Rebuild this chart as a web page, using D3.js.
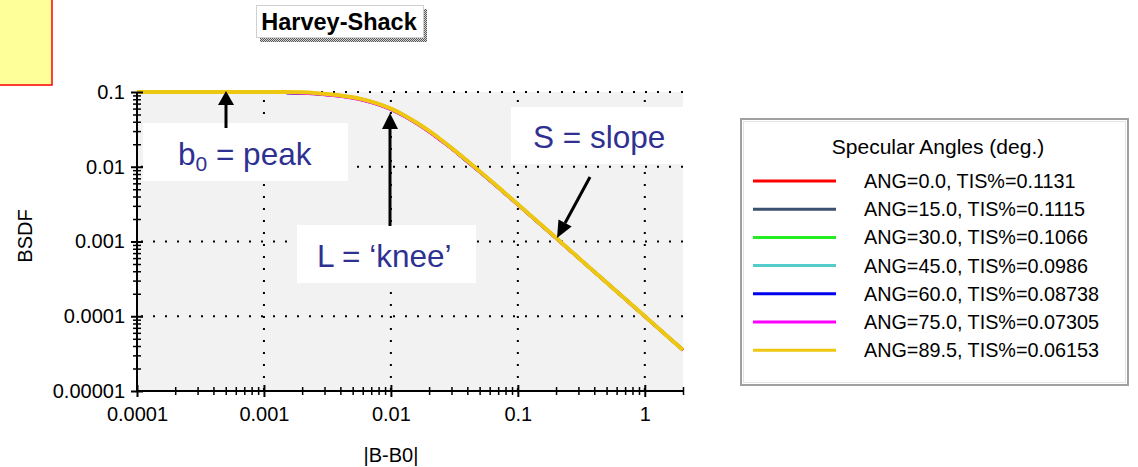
<!DOCTYPE html>
<html>
<head>
<meta charset="utf-8">
<script src="https://cdn.jsdelivr.net/npm/d3@7/dist/d3.min.js"></script>
<style>
  html, body { margin: 0; padding: 0; background: #ffffff; }
  svg { display: block; font-family: "Liberation Sans", Arial, sans-serif; }
</style>
</head>
<body>
<svg id="chart" width="1138" height="467"></svg>
<script>
// ---------------- DATA ----------------
const chartTitle = "Harvey-Shack";
const xAxisTitle = "|B-B0|";
const yAxisTitle = "BSDF";
const legendTitle = "Specular Angles (deg.)";

const xTickValues = [0.0001, 0.001, 0.01, 0.1, 1];
const xTickLabels = ["0.0001", "0.001", "0.01", "0.1", "1"];
const yTickValues = [0.00001, 0.0001, 0.001, 0.01, 0.1];
const yTickLabels = ["0.00001", "0.0001", "0.001", "0.01", "0.1"];

const seriesNames = [
  "ANG=0.0, TIS%=0.1131",
  "ANG=15.0, TIS%=0.1115",
  "ANG=30.0, TIS%=0.1066",
  "ANG=45.0, TIS%=0.0986",
  "ANG=60.0, TIS%=0.08738",
  "ANG=75.0, TIS%=0.07305",
  "ANG=89.5, TIS%=0.06153"
];
const seriesColors = ["#ff0000", "#3c5070", "#22ee22", "#55cccc", "#0000ee", "#ff00ff", "#eec711"];

// |B-B0| sample positions
const beta = [0.0001, 0.0002, 0.0005, 0.001, 0.0015, 0.002, 0.003, 0.004, 0.005, 0.006, 0.008,
  0.01, 0.013, 0.016, 0.02, 0.025, 0.03, 0.04, 0.05, 0.065, 0.08,
  0.1, 0.13, 0.16, 0.2, 0.25, 0.3, 0.4, 0.5, 0.65, 0.8,
  1.0, 1.3, 1.6, 2.0];

const bsdfAng0 = [null, null, null, null, 0.0983, 0.0970, 0.0936, 0.0893, 0.0844, 0.0792, 0.0688,
  0.0593, 0.0474, 0.0384, 0.0297, 0.0225, 0.0177, 0.0118, 0.00862, 0.00590, 0.00435,
  0.00312, 0.00211, 0.00155, 0.00111, 0.000795, 0.000605, 0.000393, 0.000282, 0.000190, 0.000139,
  0.0000997, 0.0000672, 0.0000493, 0.0000353];
const bsdfAng15 = [null, null, null, null, 0.0984, 0.0971, 0.0937, 0.0895, 0.0846, 0.0794, 0.0690,
  0.0595, 0.0476, 0.0386, 0.0299, 0.0226, 0.0178, 0.0119, 0.00868, 0.00593, 0.00437,
  0.00314, 0.00212, 0.00156, 0.00112, 0.000799, 0.000608, 0.000395, 0.000283, 0.000191, 0.000140,
  0.000100, 0.0000674, 0.0000494, 0.0000354];
const bsdfAng30 = [null, null, null, null, 0.0986, 0.0974, 0.0940, 0.0898, 0.0849, 0.0797, 0.0693,
  0.0597, 0.0478, 0.0387, 0.0300, 0.0227, 0.0179, 0.0120, 0.00870, 0.00595, 0.00438,
  0.00315, 0.00213, 0.00156, 0.00112, 0.000800, 0.000609, 0.000396, 0.000284, 0.000191, 0.000140,
  0.000100, 0.0000675, 0.0000495, 0.0000355];
const bsdfAng45 = [null, null, null, null, 0.0982, 0.0969, 0.0934, 0.0892, 0.0843, 0.0791, 0.0687,
  0.0592, 0.0473, 0.0384, 0.0297, 0.0225, 0.0177, 0.0118, 0.00863, 0.00590, 0.00435,
  0.00312, 0.00211, 0.00155, 0.00111, 0.000796, 0.000606, 0.000394, 0.000282, 0.000190, 0.000139,
  0.0000997, 0.0000672, 0.0000492, 0.0000353];
const bsdfAng60 = [null, null, null, null, 0.0978, 0.0964, 0.0928, 0.0884, 0.0834, 0.0782, 0.0679,
  0.0585, 0.0468, 0.0380, 0.0295, 0.0223, 0.0176, 0.0117, 0.00857, 0.00586, 0.00432,
  0.00311, 0.00210, 0.00154, 0.00111, 0.000793, 0.000604, 0.000392, 0.000281, 0.000190, 0.000139,
  0.0000995, 0.0000671, 0.0000492, 0.0000353];
const bsdfAng75 = [null, null, null, null, 0.0974, 0.0960, 0.0922, 0.0877, 0.0826, 0.0774, 0.0671,
  0.0579, 0.0464, 0.0377, 0.0292, 0.0221, 0.0175, 0.0117, 0.00853, 0.00584, 0.00431,
  0.00310, 0.00210, 0.00154, 0.00111, 0.000792, 0.000603, 0.000392, 0.000281, 0.000190, 0.000139,
  0.0000994, 0.0000670, 0.0000491, 0.0000352];
const bsdfAng89 = [0.1, 0.1, 0.1, 0.1, 0.1, 0.0995, 0.0945, 0.0900, 0.0850, 0.0798, 0.0694,
  0.0598, 0.0479, 0.0388, 0.0301, 0.0228, 0.0179, 0.0120, 0.00872, 0.00595, 0.00438,
  0.00315, 0.00213, 0.00156, 0.00112, 0.000800, 0.000608, 0.000395, 0.000283, 0.000191, 0.000140,
  0.000100, 0.0000674, 0.0000494, 0.0000354];

const seriesValues = [bsdfAng0, bsdfAng15, bsdfAng30, bsdfAng45, bsdfAng60, bsdfAng75, bsdfAng89];

// annotations
const annoPeak = { main: "b", sub: "0", rest: " = peak" };
const annoKnee = "L = \u2018knee\u2019";
const annoSlope = "S = slope";

// ---------------- DRAW ----------------
const svg = d3.select("#chart");
const textBlue = "#2e3192";

svg.append("rect").attr("width", 1138).attr("height", 467).attr("fill", "#ffffff");

// yellow note box top-left
svg.append("rect").attr("x", -2).attr("y", -2).attr("width", 54).attr("height", 87)
  .attr("fill", "#ffff99").attr("stroke", "#ff0000").attr("stroke-width", 1.5);

// title box with dithered shadow
const defs = svg.append("defs");
const pat = defs.append("pattern").attr("id", "dither").attr("width", 2).attr("height", 2)
  .attr("patternUnits", "userSpaceOnUse");
pat.append("rect").attr("width", 2).attr("height", 2).attr("fill", "#d8d8d8");
pat.append("rect").attr("width", 1).attr("height", 1).attr("fill", "#555");
pat.append("rect").attr("x", 1).attr("y", 1).attr("width", 1).attr("height", 1).attr("fill", "#555");

svg.append("rect").attr("x", 260).attr("y", 9).attr("width", 167).attr("height", 33).attr("fill", "url(#dither)");
svg.append("rect").attr("x", 256.5).attr("y", 5.5).attr("width", 167).attr("height", 32)
  .attr("fill", "#ffffff").attr("stroke", "#d0d0d0").attr("stroke-width", 1);
svg.append("text").attr("x", 339).attr("y", 30).attr("text-anchor", "middle")
  .attr("font-size", 23.5).attr("font-weight", "bold").attr("fill", "#000").text(chartTitle);

// scales
const x = d3.scaleLog().domain([0.0001, 2]).range([137, 683]);
const y = d3.scaleLog().domain([0.00001, 0.1]).range([391, 92]);

// plot background
svg.append("rect").attr("x", x.range()[0]).attr("y", y.range()[1])
  .attr("width", x.range()[1] - x.range()[0]).attr("height", y.range()[0] - y.range()[1])
  .attr("fill", "#f2f2f2");

// dotted grid
const grid = svg.append("g").attr("stroke", "#000").attr("stroke-width", 2).attr("stroke-dasharray", "2,10");
yTickValues.filter(v => v > 0.00001).forEach(v => {
  grid.append("line").attr("x1", x.range()[0] + 4).attr("x2", x.range()[1])
    .attr("y1", y(v)).attr("y2", y(v));
});
xTickValues.filter(v => v > 0.0001).forEach(v => {
  grid.append("line").attr("x1", x(v)).attr("x2", x(v))
    .attr("y1", y.range()[1] + 8).attr("y2", y.range()[0]);
});

// minor tick values
const xMinor = [], yMinor = [];
[0.0001, 0.001, 0.01, 0.1, 1].forEach(d => { for (let k = 2; k <= 9; k++) { const v = d * k; if (v <= 2.0001) xMinor.push(v); } });
[0.00001, 0.0001, 0.001, 0.01].forEach(d => { for (let k = 2; k <= 9; k++) yMinor.push(d * k); });

// annotation boxes (under the curves)
svg.append("rect").attr("x", 143).attr("y", 123).attr("width", 205).attr("height", 58).attr("fill", "#fff");
svg.append("rect").attr("x", 297).attr("y", 225).attr("width", 179).attr("height", 58).attr("fill", "#fff");
svg.append("rect").attr("x", 511).attr("y", 107).attr("width", 173).attr("height", 57).attr("fill", "#fff");

// curves
const line = d3.line()
  .defined(d => d[1] != null)
  .x(d => x(d[0]))
  .y(d => y(d[1]))
  .curve(d3.curveMonotoneX);

seriesValues.forEach((vals, i) => {
  const pts = beta.map((b, j) => [b, vals[j]]);
  svg.append("path").datum(pts)
    .attr("fill", "none")
    .attr("stroke", seriesColors[i])
    .attr("stroke-width", i === 6 ? 4 : 3)
    .attr("d", line);
});

// axes
const yAxisG = svg.append("g").attr("transform", `translate(${x.range()[0]},0)`);
yAxisG.call(d3.axisLeft(y).tickValues(yTickValues).tickFormat((d, i) => yTickLabels[i]).tickSize(6).tickPadding(6));
yAxisG.selectAll(".tick line").attr("x1", 6).attr("stroke-width", 2);
yAxisG.select(".domain").attr("d", `M0,${y.range()[0]}V${y.range()[1]}`).attr("stroke-width", 2);
yAxisG.selectAll(".tick text").attr("font-size", 20).attr("font-family", "Liberation Sans, Arial, sans-serif").attr("fill", "#000");
const yMinorG = svg.append("g").attr("transform", `translate(${x.range()[0]},0)`);
yMinorG.call(d3.axisLeft(y).tickValues(yMinor).tickFormat("").tickSize(4));
yMinorG.select(".domain").remove();
yMinorG.selectAll(".tick line").attr("x1", 4).attr("stroke-width", 1.5);

const xAxisG = svg.append("g").attr("transform", `translate(0,${y.range()[0]})`);
xAxisG.call(d3.axisBottom(x).tickValues(xTickValues).tickFormat((d, i) => xTickLabels[i]).tickSize(6).tickPadding(10));
xAxisG.selectAll(".tick line").attr("y1", -6).attr("stroke-width", 2);
xAxisG.select(".domain").attr("d", `M${x.range()[0]},0H${x.range()[1]}`).attr("stroke-width", 2);
xAxisG.selectAll(".tick text").attr("font-size", 20).attr("font-family", "Liberation Sans, Arial, sans-serif").attr("fill", "#000");
const xMinorG = svg.append("g").attr("transform", `translate(0,${y.range()[0]})`);
xMinorG.call(d3.axisBottom(x).tickValues(xMinor).tickFormat("").tickSize(4));
xMinorG.select(".domain").remove();
xMinorG.selectAll(".tick line").attr("y1", -4).attr("stroke-width", 1.5);

// axis titles
svg.append("text").attr("x", 391).attr("y", 462).attr("text-anchor", "middle")
  .attr("font-size", 20).attr("fill", "#000").text(xAxisTitle);
svg.append("text").attr("transform", "translate(32,236) rotate(-90)").attr("text-anchor", "middle")
  .attr("font-size", 20).attr("fill", "#000").text(yAxisTitle);

// annotation texts
const tPeak = svg.append("text").attr("x", 178).attr("y", 165).attr("font-size", 31.5).attr("fill", textBlue);
tPeak.append("tspan").text(annoPeak.main);
tPeak.append("tspan").attr("font-size", 21).attr("dy", 6).text(annoPeak.sub);
tPeak.append("tspan").attr("dy", -6).text(annoPeak.rest);
svg.append("text").attr("x", 317).attr("y", 267).attr("font-size", 31.5).attr("fill", textBlue).text(annoKnee);
svg.append("text").attr("x", 533).attr("y", 148).attr("font-size", 31.5).attr("fill", textBlue).text(annoSlope);

// arrows
function arrow(x1, y1, x2, y2, headLen, headW) {
  const ang = Math.atan2(y2 - y1, x2 - x1);
  const bx = x2 - headLen * Math.cos(ang), by = y2 - headLen * Math.sin(ang);
  svg.append("line").attr("x1", x1).attr("y1", y1).attr("x2", bx).attr("y2", by)
    .attr("stroke", "#000").attr("stroke-width", 3);
  const px = -Math.sin(ang) * headW / 2, py = Math.cos(ang) * headW / 2;
  svg.append("path").attr("d", `M${x2},${y2}L${bx + px},${by + py}L${bx - px},${by - py}Z`).attr("fill", "#000");
}
arrow(226, 128, 226, 91, 14, 16);
arrow(390, 226, 390, 113, 16, 16);
arrow(590, 177, 557, 238, 17, 15);

// legend
const lg = svg.append("g");
lg.append("rect").attr("x", 741).attr("y", 119).attr("width", 387).attr("height", 266)
  .attr("fill", "#fff").attr("stroke", "#a0a0a0").attr("stroke-width", 2);
lg.append("rect").attr("x", 743.5).attr("y", 121.5).attr("width", 382).attr("height", 261)
  .attr("fill", "none").attr("stroke", "#e4e4e4").attr("stroke-width", 1);
lg.append("text").attr("x", 938).attr("y", 154).attr("text-anchor", "middle")
  .attr("font-size", 21).attr("fill", "#000").text(legendTitle);
seriesNames.forEach((name, i) => {
  const yy = 181 + i * 28.2;
  lg.append("line").attr("x1", 753).attr("x2", 836).attr("y1", yy).attr("y2", yy)
    .attr("stroke", seriesColors[i]).attr("stroke-width", 3);
  lg.append("text").attr("x", 864).attr("y", yy + 7).attr("font-size", 19.8).attr("fill", "#000").text(name);
});
</script>
</body>
</html>
